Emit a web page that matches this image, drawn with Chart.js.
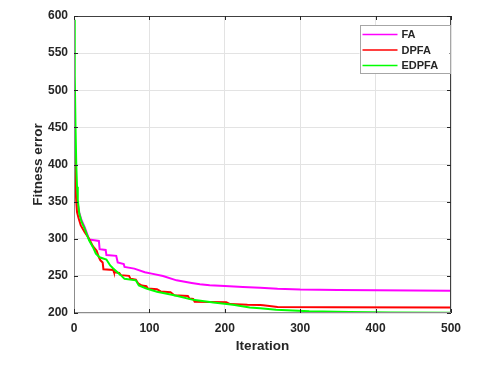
<!DOCTYPE html>
<html>
<head>
<meta charset="utf-8">
<script src="https://cdn.jsdelivr.net/npm/chart.js@4/dist/chart.umd.min.js"></script>
<style>
    html, body { margin: 0; padding: 0; background: #fff; }
    #wrap { width: 482px; height: 370px; }
</style>
</head>
<body>
<div id="wrap"><canvas id="fitnessChart" width="482" height="370"></canvas></div>
<script>
// series labels
const seriesNames = ["FA", "DPFA", "EDPFA"];

// FA
const faIter = [0, 1, 2, 3, 5, 7, 10, 14, 18, 20, 27, 33, 34, 42, 43, 56, 58, 66, 67, 80, 94, 103, 118, 136, 156, 167, 180, 200, 224, 247, 270, 300, 350, 400, 450, 500];
const faValue = [430, 395, 370, 358, 347, 335, 325, 316, 305, 299, 298, 297, 286, 285, 278, 277, 268, 266, 262, 259.8, 255, 253, 249.8, 244, 240.4, 238.6, 237.5, 236.5, 235, 234, 232.5, 231.5, 231, 230.6, 230.2, 229.8];

// DPFA
const dpfaIter = [0, 1, 2, 3, 4, 6, 9, 14, 20, 25, 30, 33, 35, 38, 39, 52, 53, 60, 62, 73, 75, 82, 85, 90, 96, 98, 110, 115, 128, 133, 151, 153, 158, 160, 202, 207, 230, 247, 251, 270, 342, 500];
const dpfaValue = [455, 420, 370, 350, 336, 328, 318, 309, 300, 290, 284, 275, 271, 268, 259, 258, 255, 254, 251, 250, 246, 245, 240, 237, 236, 233, 232, 229, 228, 224, 223, 219.5, 219, 215, 214.5, 212, 211, 210.8, 210.4, 208, 207.8, 207.3];

// EDPFA
const edpfaIter = [0, 1, 2, 3, 4, 5, 7, 10, 14, 20, 25, 29, 34, 43, 48, 52, 62, 67, 82, 86, 96, 110, 133, 158, 185, 211, 233, 247, 268, 312, 366, 420, 500];
const edpfaValue = [595, 520, 450, 400, 370, 352, 334, 323, 314, 298, 289, 280, 275, 272, 264, 260, 251, 246, 244, 237, 233, 228.6, 224, 217.7, 214, 211, 207.5, 206.5, 204.5, 202.5, 201.5, 200.8, 200.5];

// axis ticks
const xTicks = [0, 100, 200, 300, 400, 500];
const yTicks = [200, 250, 300, 350, 400, 450, 500, 550, 600];

const FONT = "'Liberation Sans', Arial, Helvetica, sans-serif";
const TEXT = "#262626";

const toPoints = (xs, ys) => xs.map((x, i) => ({ x: x, y: ys[i] }));

// box around the plot, with ticks pointing in
const boxPlugin = {
    id: "boxTicks",
    afterDatasetsDraw: function (chart) {
        const ctx = chart.ctx;
        const a = chart.chartArea;
        const xs = chart.scales.x, ys = chart.scales.y;
        ctx.save();
        ctx.lineWidth = 1;
        ctx.strokeStyle = "#404040";
        ctx.beginPath();
        ctx.moveTo(a.left, a.top + 0.5);
        ctx.lineTo(a.right, a.top + 0.5);
        ctx.moveTo(a.right - 0.5, a.top);
        ctx.lineTo(a.right - 0.5, a.bottom);
        ctx.stroke();
        ctx.strokeStyle = "#8c8c8c";
        ctx.beginPath();
        ctx.moveTo(a.left + 0.5, a.top);
        ctx.lineTo(a.left + 0.5, a.bottom);
        ctx.moveTo(a.left, a.bottom - 0.5);
        ctx.lineTo(a.right, a.bottom - 0.5);
        ctx.stroke();
        ctx.strokeStyle = "#262626";
        ctx.beginPath();
        xTicks.forEach(function (v) {
            const px = Math.round(xs.getPixelForValue(v)) + 0.5;
            ctx.moveTo(px, a.bottom);
            ctx.lineTo(px, a.bottom - 4);
            ctx.moveTo(px, a.top);
            ctx.lineTo(px, a.top + 4);
        });
        yTicks.forEach(function (v) {
            const py = Math.round(ys.getPixelForValue(v)) + 0.5;
            ctx.moveTo(a.left, py);
            ctx.lineTo(a.left + 4, py);
            ctx.moveTo(a.right, py);
            ctx.lineTo(a.right - 4, py);
        });
        ctx.stroke();
        ctx.restore();
    },
};

// legend box in the upper right corner of the plot
const legendBoxPlugin = {
    id: "legendBox",
    afterDraw: function (chart) {
        const ctx = chart.ctx;
        const a = chart.chartArea;
        const w = 90, h = 48;
        const left = a.right - w - 1.5, top = a.top + 9;
        ctx.save();
        ctx.fillStyle = "#ffffff";
        ctx.fillRect(left, top, w, h);
        ctx.strokeStyle = "#a6a6a6";
        ctx.lineWidth = 1;
        ctx.strokeRect(Math.round(left) + 0.5, Math.round(top) + 0.5, w, h);
        ctx.font = "bold 11px " + FONT;
        ctx.textBaseline = "middle";
        chart.data.datasets.forEach(function (ds, i) {
            const y = top + 9.5 + i * 15.5;
            ctx.strokeStyle = ds.borderColor;
            ctx.lineWidth = 1.6;
            ctx.beginPath();
            ctx.moveTo(left + 3, y);
            ctx.lineTo(left + 38, y);
            ctx.stroke();
            ctx.fillStyle = TEXT;
            ctx.fillText(ds.label, left + 42, y + 0.5);
        });
        ctx.restore();
    },
};

const chart = new Chart(document.getElementById("fitnessChart"), {
    type: "line",
    data: {
        datasets: [
            {
                label: seriesNames[0],
                data: toPoints(faIter, faValue),
                borderColor: "#ff00ff",
                order: 3,
            },
            {
                label: seriesNames[1],
                data: toPoints(dpfaIter, dpfaValue),
                borderColor: "#ff0000",
                order: 2,
            },
            {
                label: seriesNames[2],
                data: toPoints(edpfaIter, edpfaValue),
                borderColor: "#00ff00",
                order: 1,
            },
        ],
    },
    options: {
        responsive: false,
        animation: false,
        devicePixelRatio: 1,
        layout: { padding: { left: 26, right: 31, top: 16, bottom: 12 } },
        elements: {
            line: { borderWidth: 2, tension: 0, fill: false },
            point: { radius: 0 },
        },
        plugins: {
            legend: { display: false },
            tooltip: { enabled: false },
        },
        scales: {
            x: {
                type: "linear",
                min: 0,
                max: 500,
                afterBuildTicks: function (scale) {
                    scale.ticks = xTicks.map((v) => ({ value: v }));
                },
                afterFit: function (scale) {
                    scale.height = 45;
                },
                grid: { color: "#e3e3e3", drawTicks: false },
                border: { display: false },
                ticks: {
                    padding: 8,
                    color: TEXT,
                    font: { family: FONT, size: 12, weight: "bold" },
                },
                title: {
                    display: true,
                    text: "Iteration",
                    color: TEXT,
                    padding: { top: 3 },
                    font: { family: FONT, size: 13.5, weight: "bold" },
                },
            },
            y: {
                type: "linear",
                min: 200,
                max: 600,
                afterBuildTicks: function (scale) {
                    scale.ticks = yTicks.map((v) => ({ value: v }));
                },
                afterFit: function (scale) {
                    scale.width = 48;
                },
                grid: { color: "#e3e3e3", drawTicks: false },
                border: { display: false },
                ticks: {
                    padding: 6,
                    color: TEXT,
                    font: { family: FONT, size: 12, weight: "bold" },
                },
                title: {
                    display: true,
                    text: "Fitness error",
                    color: TEXT,
                    padding: { bottom: 4 },
                    font: { family: FONT, size: 13.5, weight: "bold" },
                },
            },
        },
    },
    plugins: [boxPlugin, legendBoxPlugin],
});
</script>
</body>
</html>
